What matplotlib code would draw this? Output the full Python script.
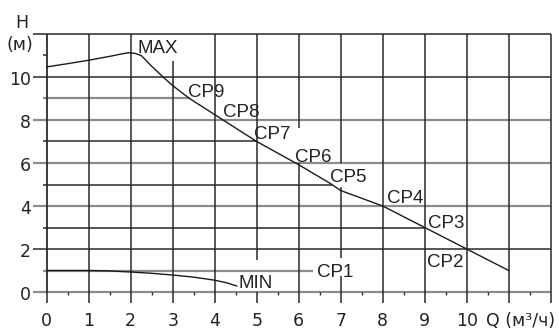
import numpy as np
import matplotlib
matplotlib.use("Agg")
import matplotlib.pyplot as plt

# pump curve data
q_max = [0, 0.5, 1, 1.5, 1.8, 1.95, 2.1, 2.25, 2.5, 2.77, 3, 3.4, 4, 5, 6, 6.75, 7, 7.5, 8, 9, 10, 11]
h_max = [10.47, 10.62, 10.78, 10.96, 11.08, 11.13, 11.1, 11.0, 10.5, 10.0, 9.6, 9.0, 8.25, 7.0, 5.92, 5.05, 4.72, 4.36, 4.0, 3.0, 2.0, 1.0]
q_min = [0, 1, 1.5, 2, 2.5, 3, 3.5, 4, 4.3, 4.52]
h_min = [1.0, 1.0, 0.98, 0.93, 0.87, 0.79, 0.69, 0.55, 0.42, 0.28]

# labels and where they sit (left, baseline)
curve_names = ["MAX", "CP9", "CP8", "CP7", "CP6", "CP5", "CP4", "CP3", "CP2", "CP1", "MIN"]
name_q = [2.17, 3.37, 4.19, 4.94, 5.91, 6.75, 8.10, 9.09, 9.05, 6.43, 4.56]
name_h = [11.12, 9.08, 8.15, 7.12, 6.06, 5.13, 4.13, 2.96, 1.18, 0.71, 0.17]

x_ticks = list(range(0, 11))
y_ticks = [0, 2, 4, 6, 8, 10]

fig = plt.figure(figsize=(5.59, 3.29), dpi=100)
ax = fig.add_axes([0, 0, 1, 1])
# 42 px per m3/h, 21.5 px per m, origin at (46.7, 292)
ax.set_xlim(-46.7 / 42, (559 - 46.7) / 42)
ax.set_ylim((292 - 329) / 21.5, 292 / 21.5)
ax.axis("off")

dark = "#2a2a2a"
grey = "#8c8c8c"

# horizontal lines: even ones full, odd ones run to the MAX curve
q_rev = q_max[::-1]
h_rev = h_max[::-1]
for h in range(0, 13):
    if h % 2 == 0:
        q_end = 12
        q_start = -0.326
    elif h == 11:
        q_start, q_end = -0.095, 0
    elif h == 1:
        q_start, q_end = -0.095, 6.35
    else:
        q_start = -0.095
        q_end = np.interp(h, h_rev, q_rev)
    col = grey if h in (0, 1, 4, 6, 8, 9) else dark
    lw = 1.6 if col == grey else 1.1
    ax.plot([q_start, q_end], [h, h], color=col, lw=lw, solid_capstyle="butt")

# vertical lines, some with gaps
gaps = {3: [(0, 10.73)], 5: [(1.49, 12)], 6: [(0, 6.0), (7.65, 12)],
        7: [(0, 0.74), (1.58, 4.9), (6.0, 12)]}
for q in range(0, 13):
    segs = gaps.get(q, [(0, 12)])
    for a, b in segs:
        ax.plot([q, q], [a, b], color=dark, lw=1.3 if q == 0 else 1.1, solid_capstyle="butt")
    ax.plot([q, q], [-0.51, 0], color=dark, lw=1.1, solid_capstyle="butt")
for q in np.arange(0.5, 12, 1.0):
    ax.plot([q, q], [-0.16, 0], color=dark, lw=1.0, solid_capstyle="butt")

# curves
ax.plot(q_max, h_max, color="#1a1a1a", lw=1.0)
ax.plot(q_min, h_min, color="#1a1a1a", lw=1.0)

for name, q, h in zip(curve_names, name_q, name_h):
    ax.text(q, h, name, family="Liberation Sans", fontsize=13.5, color="#222222",
            ha="left", va="baseline")

for v in y_ticks:
    ax.text(-0.37, v - 0.37, str(v), fontsize=12.5, color="#222222",
            ha="right", va="baseline")
for v in x_ticks:
    ax.text(v, -1.60, str(v), fontsize=12.5, color="#222222",
            ha="center", va="baseline")

ax.text(-0.755, 12.26, "H", fontsize=12.5, color="#222222", ha="left", va="baseline")
ax.text(-0.95, 11.26, "(м)", fontsize=12.5, color="#222222", ha="left", va="baseline")
ax.text(10.45, -1.60, "Q (м³/ч)", fontsize=12.5, color="#222222", ha="left", va="baseline")

fig.savefig("out.png", dpi=100)
